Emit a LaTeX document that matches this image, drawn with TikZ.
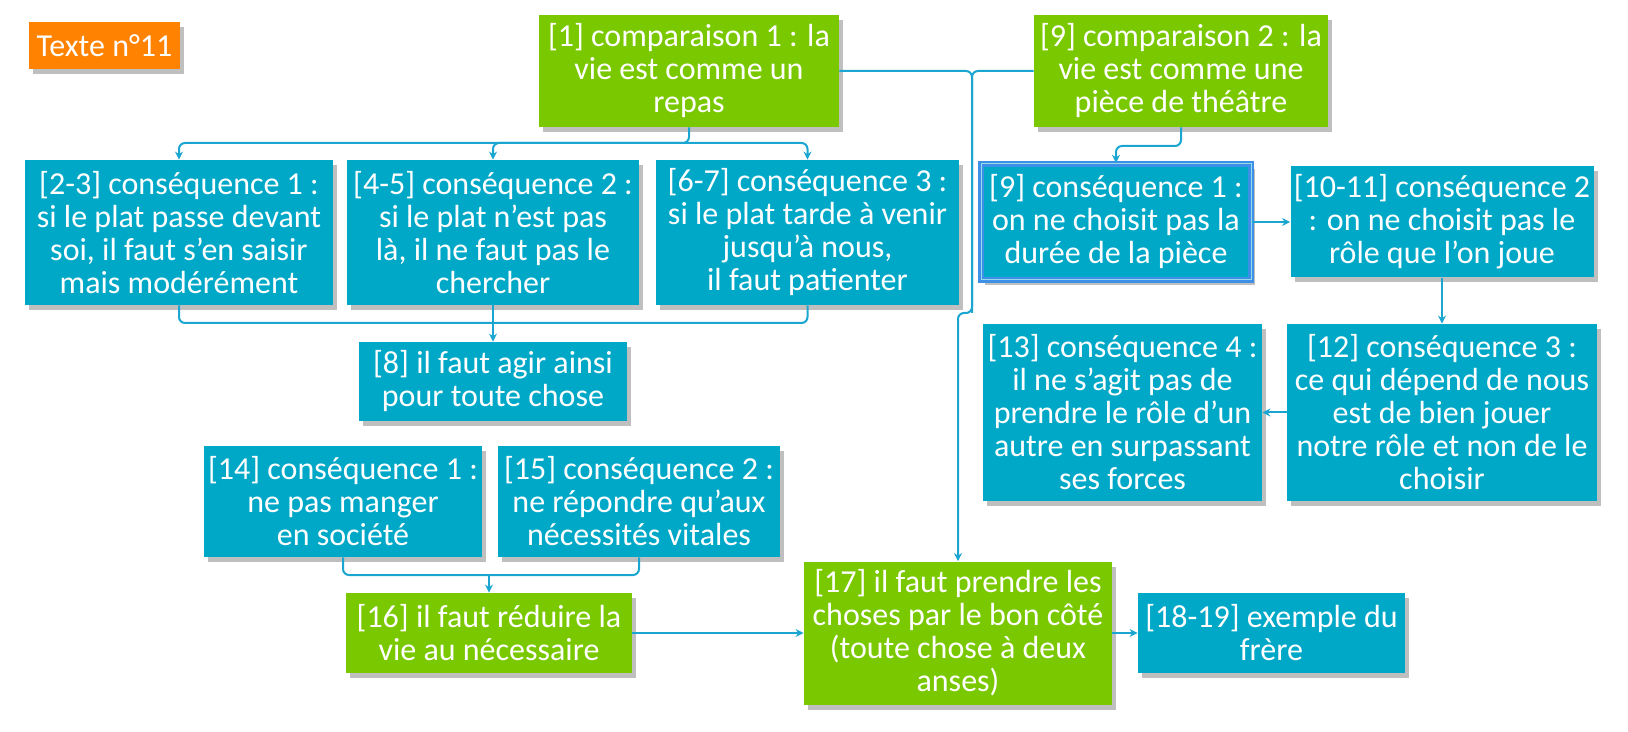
\documentclass[tikz,border=0pt]{standalone}
\usepackage{fontspec}
\setmainfont{Carlito}
\usetikzlibrary{arrows.meta,shadows}

\definecolor{leafgreen}{HTML}{7AC800}
\definecolor{seablue}{HTML}{00A8C8}
\definecolor{tagorange}{HTML}{FF8200}
\definecolor{linkblue}{HTML}{1AA6D0}
\definecolor{pickblue}{HTML}{3D8FE8}

\tikzset{
    box/.style={rectangle, text=white, align=center, inner sep=1pt,
        font=\fontsize{16}{16.5}\selectfont,
        drop shadow={shadow xshift=2pt, shadow yshift=-2.5pt, opacity=0.25, fill=black}},
    bluebox/.style={box, fill=seablue},
    greenbox/.style={box, fill=leafgreen},
    tagbox/.style={box, fill=tagorange},
    sized/.style 2 args={minimum width=#1*0.5pt, minimum height=#2*0.5pt},
    link/.style={draw=linkblue, line width=1pt, rounded corners=3pt},
    arr/.style={link, -{Stealth[length=4pt, width=4pt]}}
}

\begin{document}
\begin{tikzpicture}[x=0.5pt, y=-0.5pt]
        \useasboundingbox (0, 0) rectangle (1628, 732);

        \node (tag) at (104.5, 45.5) [tagbox, sized={151}{47}] {Texte n°11};

        \node (c1) at (689, 71) [greenbox, sized={300}{112}] {[1] comparaison 1 : la\\vie est comme un\\repas};
        \node (c2) at (1181, 71) [greenbox, sized={294}{112}] {[9] comparaison 2 : la\\vie est comme une\\pièce de théâtre};

        \node (k1) at (179, 232.5) [bluebox, sized={308}{145}] {[2-3] conséquence 1 :\\si le plat passe devant\\soi, il faut s’en saisir\\mais modérément};
        \node (k2) at (493, 232.5) [bluebox, sized={292}{145}] {[4-5] conséquence 2 :\\si le plat n’est pas\\là, il ne faut pas le\\chercher};
        \node (k3) at (807.5, 232.5) [bluebox, sized={303}{145}] {[6-7] conséquence 3 :\\si le plat tarde à venir\\jusqu’à nous,\\il faut patienter};

        \node (s8) at (493, 381.5) [bluebox, sized={268}{79}] {[8] il faut agir ainsi\\pour toute chose};

        \node (d1) at (1116, 222) [bluebox, sized={270}{116}, draw=pickblue, line width=1.2pt, double=white!60!seablue, double distance=0.5pt] {[9] conséquence 1 :\\on ne choisit pas la\\durée de la pièce};
        \node (d2) at (1442, 222) [bluebox, sized={303}{111}] {[10-11] conséquence 2\\: on ne choisit pas le\\rôle que l’on joue};
        \node (d3) at (1442, 412.5) [bluebox, sized={310}{177}] {[12] conséquence 3 :\\ce qui dépend de nous\\est de bien jouer\\notre rôle et non de le\\choisir};
        \node (d4) at (1122.5, 412.5) [bluebox, sized={279}{177}] {[13] conséquence 4 :\\il ne s’agit pas de\\prendre le rôle d’un\\autre en surpassant\\ses forces};

        \node (e14) at (343, 501.5) [bluebox, sized={278}{111}] {[14] conséquence 1 :\\ne pas manger\\en société};
        \node (e15) at (639, 501.5) [bluebox, sized={282}{111}] {[15] conséquence 2 :\\ne répondre qu’aux\\nécessités vitales};
        \node (e16) at (489, 633) [greenbox, sized={286}{80}] {[16] il faut réduire la\\vie au nécessaire};

        \node (f17) at (958, 633) [greenbox, sized={308}{143}] {[17] il faut prendre les\\choses par le bon côté\\(toute chose à deux\\anses)};
        \node (f18) at (1271.5, 633) [bluebox, sized={267}{80}] {[18-19] exemple du\\frère};

        \coordinate (fork1) at (689, 143);
        \coordinate (join1) at (493, 323);
        \coordinate (fork2) at (1116, 146);
        \coordinate (bend) at (972, 313);
        \coordinate (join2) at (489, 575);

        \draw[arr] (c1.south) -- (fork1) -| (k1.north);
        \draw[arr] (fork1) -| (k2.north);
        \draw[arr] (fork1) -| (k3.north);

        \draw[link] (k1.south) |- (join1);
        \draw[link] (k3.south) |- (join1);
        \draw[arr] (k2.south) -- (s8.north);

        \draw[arr] (c1.east) -| (bend) -| (f17.north);
        \draw[link] (c2.west) -| (bend);

        \draw[arr] (c2.south) |- (fork2) -- (d1.north);
        \draw[arr] (d1.east) -- (d2.west);
        \draw[arr] (d2.south) -- (d3.north);
        \draw[arr] (d3.west) -- (d4.east);

        \draw[link] (e14.south) |- (join2);
        \draw[link] (e15.south) |- (join2);
        \draw[arr] (join2) -- (e16.north);

        \draw[arr] (e16.east) -- (f17.west);
        \draw[arr] (f17.east) -- (f18.west);

    \end{tikzpicture}
\end{document}
